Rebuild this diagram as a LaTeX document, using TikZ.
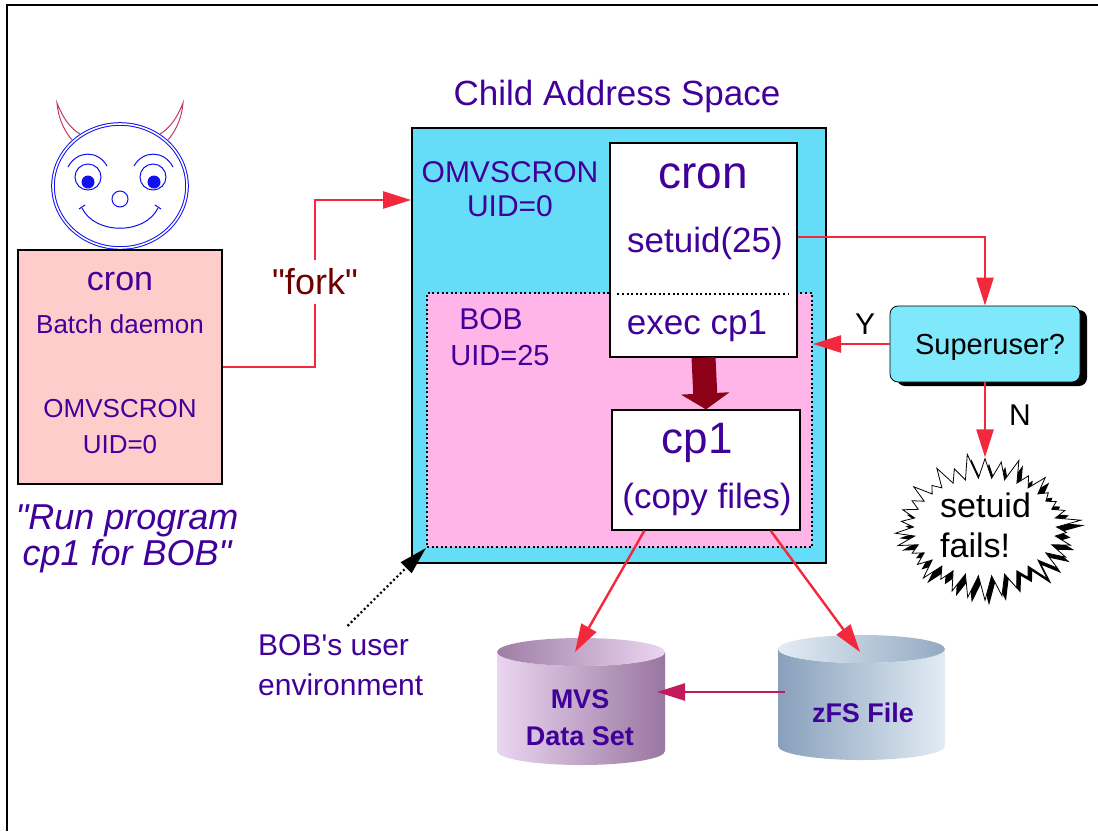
\documentclass[tikz,border=0pt]{standalone}
\usepackage{fontspec}
\setmainfont{Liberation Sans}
\usetikzlibrary{arrows.meta,positioning,shapes.symbols,shadows}
\definecolor{inkpurple}{HTML}{400099}
\definecolor{spacecyan}{HTML}{66DDF8}
\definecolor{envpink}{HTML}{FFB5E8}
\definecolor{daemonpink}{HTML}{FFCCCC}
\definecolor{linkred}{HTML}{F2283C}
\definecolor{forkred}{HTML}{6E0000}
\definecolor{execred}{HTML}{8C0018}
\definecolor{askcyan}{HTML}{80E8FB}
\definecolor{copyred}{HTML}{C21A5C}
\definecolor{faceblue}{HTML}{1010F0}
\definecolor{hornred}{HTML}{C23868}
\definecolor{mvslight}{RGB}{234,214,240}
\definecolor{mvsdark}{RGB}{154,118,160}
\definecolor{zfslight}{RGB}{226,236,244}
\definecolor{zfsdark}{RGB}{136,160,188}
\newcommand{\fsz}[1]{\fontsize{#1}{#1}\selectfont}

\begin{document}
\begin{tikzpicture}[x=1pt,y=-1pt,
    >=Latex,
    box/.style={draw=black,line width=1.8pt,inner sep=0pt},
    txt/.style={text=inkpurple,inner sep=0pt,anchor=base},
    link/.style={-{Triangle[length=28pt,width=17pt]},draw=linkred,line width=2.4pt},
    envline/.style={draw=black,line width=2pt,dash pattern=on 2pt off 2.6pt},
    face/.style={draw=faceblue,line width=1pt}
  ]
    \useasboundingbox (0,0) rectangle (1098,831);
    \draw[line width=1.2pt] (7,831) -- (7,5) -- (1098,5);

    % the daemon
    \draw[face,double=white,double distance=1.6pt,fill=white] (120,186) ellipse [x radius=67pt,y radius=62pt];
    \draw[draw=hornred,line width=1pt] (72,140) .. controls (62,128) and (58,115) .. (57,103)
      .. controls (63,118) and (70,128) .. (80,134);
    \draw[draw=hornred,line width=1pt] (168,140) .. controls (178,128) and (182,115) .. (183,103)
      .. controls (177,118) and (170,128) .. (160,134);
    \draw[face] (68,167) .. controls (77,150) and (98,150) .. (107,166);
    \draw[face] (134,166) .. controls (143,150) and (164,150) .. (173,167);
    \draw[face] (88,177) circle [radius=13pt];
    \draw[face] (153,177) circle [radius=13pt];
    \fill[faceblue] (88,182) circle [radius=6.5pt];
    \fill[faceblue] (154,182) circle [radius=6.5pt];
    \draw[face] (120,199) circle [radius=8pt];
    \draw[face] (82,208) .. controls (95,235) and (145,235) .. (158,208);
    \draw[face] (79,209) -- (85,205) (155,205) -- (161,209);

    \node[box,fill=daemonpink,minimum width=204pt,minimum height=234pt] (daemon) at (120,367) {};
    \node[txt,font=\fsz{34}] (daemonname) at (120,290) {cron};
    \node[txt,font=\fsz{26}] (daemonrole) at (120,333) {Batch daemon};
    \node[txt,font=\fsz{26}] (daemonuser) at (120,417) {OMVSCRON};
    \node[txt,font=\fsz{26}] (daemonuid) at (120,453) {UID=0};
    \node[txt,font=\fsz{36}\itshape] (request) at (127,529) {\textquotedbl Run program};
    \node[txt,font=\fsz{36}\itshape] (requestb) at (127,565) {cp1 for BOB\textquotedbl};

    % child address space
    \node[txt,font=\fsz{35}] (spacetitle) at (617,105) {Child Address Space};
    \node[box,fill=spacecyan,minimum width=414pt,minimum height=435pt] (space) at (619,345.5) {};
    \node[envline,fill=envpink,minimum width=385pt,minimum height=254pt,inner sep=0pt] (bobenv) at (619.5,420) {};
    \node[txt,font=\fsz{30}] (spaceuser) at (510,182) {OMVSCRON};
    \node[txt,font=\fsz{30}] (spaceuid) at (510,216) {UID=0};
    \node[txt,font=\fsz{30}] (bobuser) at (491,329) {BOB};
    \node[txt,font=\fsz{29}] (bobuid) at (500,365) {UID=25};

    \node[draw=black,line width=1.2pt,fill=white,minimum width=187pt,minimum height=214pt] (cronbox) at (703.5,250) {};
    \node[txt,font=\fsz{46}] (cronname) at (703,188) {cron};
    \node[txt,font=\fsz{35}] (setuid) at (705,252) {setuid(25)};
    \draw[envline] ([xshift=8pt,yshift=-44pt]cronbox.west) -- ([xshift=-9pt,yshift=-44pt]cronbox.east);
    \node[txt,font=\fsz{35}] (execline) at (697,334) {exec cp1};

    \node[draw=black,line width=1.2pt,fill=white,minimum width=188pt,minimum height=120pt] (cpbox) at (706,470) {};
    \node[txt,font=\fsz{44}] (cpname) at (697,453) {cp1};
    \node[txt,font=\fsz{35}] (cpjob) at (707,508) {(copy files)};

    \draw[line width=24pt,draw=execred,-{Triangle[length=16pt,width=48pt]}] (cronbox.south) -- (cpbox.north);

    % fork
    \node[inner sep=0pt,text=forkred,font=\fsz{36}] (fork) at (315,282) {\textquotedbl fork\textquotedbl};
    \draw[draw=linkred,line width=2.4pt] (daemon.east) -| ([yshift=-22pt]fork.center);
    \draw[link] ([yshift=22pt]fork.center) |- (space.west |- 0,200);

    % superuser test
    \node[draw=black,line width=0.8pt,fill=askcyan,rounded corners=8pt,minimum width=190pt,minimum height=76pt,
      drop shadow={shadow xshift=7pt,shadow yshift=-4pt,opacity=1,fill=black}] (super) at (985,344) {};
    \node[inner sep=0pt,anchor=base,font=\fsz{29}] (supertext) at (990,354) {Superuser?};
    \draw[link] ([yshift=13pt]cronbox.east) -| (super.north);
    \draw[link] (super.west) -- (super.west -| bobenv.east);
    \node[inner sep=0pt,anchor=base,font=\fsz{30}] (yes) at (865,334) {Y};

    \node[starburst,starburst points=34,starburst point height=26pt,random starburst=11,
      draw=black,line width=0.8pt,fill=white,minimum width=195pt,minimum height=150pt,
      drop shadow={shadow xshift=4pt,shadow yshift=-5pt,opacity=1,fill=black}] (fails) at (985,527) {};
    \node[inner sep=0pt,anchor=base west,font=\fsz{34}] (failsa) at (940,517) {setuid};
    \node[inner sep=0pt,anchor=base west,font=\fsz{34}] (failsb) at (940,557) {fails!};
    \draw[link] (super.south) -- (fails.north);
    \node[inner sep=0pt,anchor=base,font=\fsz{30}] (no) at (1020,425) {N};

    % data sets
    \shade[left color=mvslight,right color=mvsdark]
      (497,652) -- (497,751) arc[start angle=180,end angle=360,x radius=84pt,y radius=14pt]
      -- (665,652) arc[start angle=0,end angle=-180,x radius=84pt,y radius=14pt] -- cycle;
    \shade[left color=mvsdark!95!white,right color=mvslight] (581,652) ellipse [x radius=84pt,y radius=14pt];
    \shade[left color=zfsdark,right color=zfslight]
      (778,649) -- (778,746) arc[start angle=180,end angle=360,x radius=83.5pt,y radius=14pt]
      -- (945,649) arc[start angle=0,end angle=-180,x radius=83.5pt,y radius=14pt] -- cycle;
    \shade[left color=zfslight,right color=zfsdark!90!white] (861.5,649) ellipse [x radius=83.5pt,y radius=14pt];
    \node[txt,font=\fsz{27}\bfseries] (mvs) at (580,708) {MVS};
    \node[txt,font=\fsz{27}\bfseries] (mvsb) at (580,745) {Data Set};
    \node[txt,font=\fsz{27}\bfseries] (zfs) at (863,722) {zFS File};
    \coordinate (mvstop) at (575,652);
    \coordinate (zfstop) at (860,652);
    \coordinate (mvsside) at (657,692);
    \coordinate (zfsside) at (785,692);

    \draw[link] ([xshift=33pt]cpbox.south west) -- (mvstop);
    \draw[link] ([xshift=-30pt]cpbox.south east) -- (zfstop);
    \draw[link,draw=copyred] (zfsside) -- (mvsside);

    % user environment callout
    \node[inner sep=0pt,anchor=base west,text=inkpurple,font=\fsz{30}] (envlabel) at (258,655) {BOB\textquotesingle s user};
    \node[inner sep=0pt,anchor=base west,text=inkpurple,font=\fsz{30}] (envlabelb) at (258,695) {environment};
    \draw[envline,-{Triangle[length=28pt,width=15pt]},line width=2.2pt] ([xshift=14pt,yshift=8pt]envlabel.north) -- (bobenv.south west);
\end{tikzpicture}
\end{document}
